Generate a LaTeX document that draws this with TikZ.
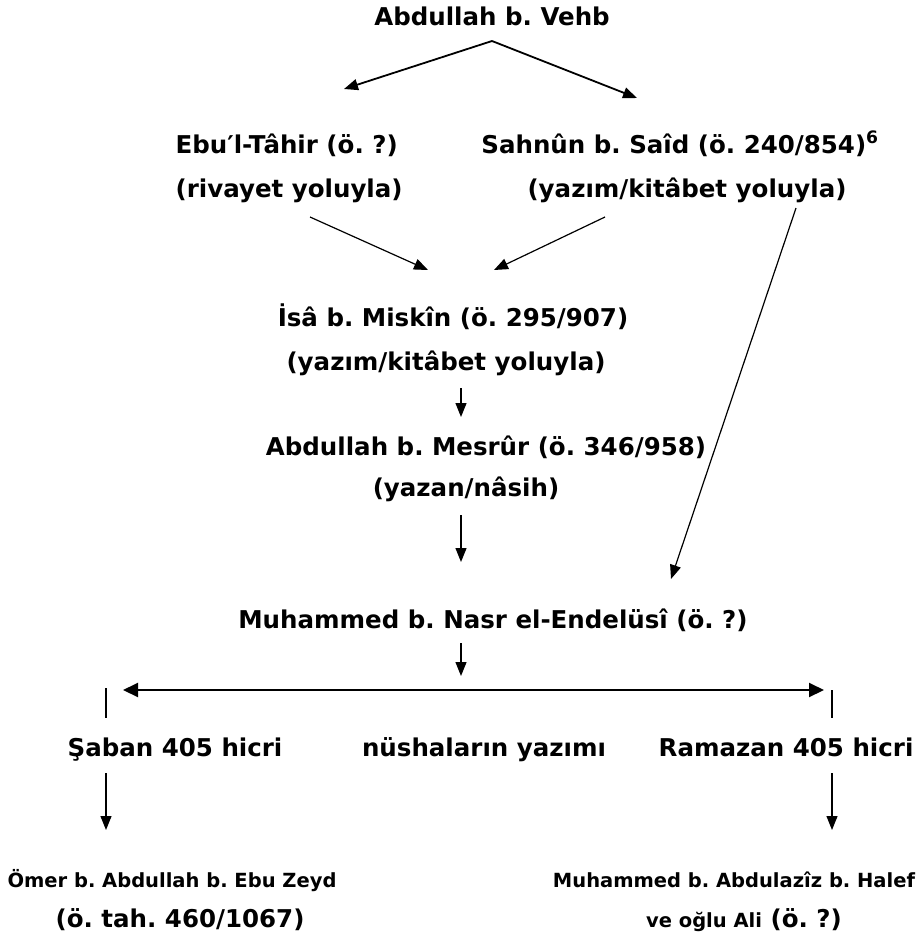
\documentclass[tikz,border=0pt]{standalone}
\usepackage{fontspec}
\setmainfont{DejaVu Sans}
\usetikzlibrary{arrows.meta}
\frenchspacing
\begin{document}
\begin{tikzpicture}[x=1pt, y=-1pt, font=\bfseries\fontsize{24.5}{28}\selectfont, line join=round, line width=1.2pt, >={Triangle[length=14pt,width=11pt]}]
		\tikzset{txt/.style={anchor=base, inner sep=0pt}, small/.style={txt, font=\bfseries\fontsize{19.5}{22}\selectfont}}
		\useasboundingbox (0,0) rectangle (918,935);
		% names
		\node[txt] (vehb) at (492,25) {Abdullah b. Vehb};
		\node[txt, anchor=base west] (tahir) at (175,153) {Ebu′l-Tâhir (ö. ?)};
		\node[txt, anchor=base west] (tahirb) at (175,197) {(rivayet yoluyla)};
		\node[txt] (sahnun) at (680,153) {Sahnûn b. Saîd (ö. 240/854)\textsuperscript{6}};
		\node[txt] (sahnunb) at (687,197) {(yazım/kitâbet yoluyla)};
		\node[txt] (isa) at (453,326) {İsâ b. Miskîn (ö. 295/907)};
		\node[txt] (isab) at (446,370) {(yazım/kitâbet yoluyla)};
		\node[txt] (mesrur) at (486,455) {Abdullah b. Mesrûr (ö. 346/958)};
		\node[txt] (mesrurb) at (466,496) {(yazan/nâsih)};
		\node[txt] (nasr) at (493,628) {Muhammed b. Nasr el-Endelüsî (ö. ?)};
		\node[txt] (saban) at (175,756) {Şaban 405 hicri};
		\node[txt] (nusha) at (484,756) {nüshaların yazımı};
		\node[txt] (ramazan) at (786,756) {Ramazan 405 hicri};
		\node[small] (omer) at (172,887) {Ömer b. Abdullah b. Ebu Zeyd};
		\node[txt] (omerb) at (180,927) {(ö. tah. 460/1067)};
		\node[small] (halef) at (734,887) {Muhammed b. Abdulazîz b. Halef};
		\node[txt] (ali) at (744,927) {{\fontsize{19.5}{22}\selectfont ve oğlu Ali} (ö. ?)};
		% arrow ends
		\coordinate (v0) at (492,41); \coordinate (v1) at (344,89); \coordinate (v2) at (637,98);
		\coordinate (t0) at (310,217); \coordinate (s0) at (605,217); \coordinate (s1) at (796,208);
		\coordinate (i0) at (428,270); \coordinate (i1) at (494,270);
		\coordinate (m0) at (461,388); \coordinate (m1) at (461,417);
		\coordinate (n0) at (461,515); \coordinate (n1) at (461,562); \coordinate (n2) at (671,579);
		\coordinate (d0) at (461,643); \coordinate (d1) at (461,676);
		\coordinate (l0) at (123,690); \coordinate (r0) at (824,690);
		\coordinate (l1) at (106,773); \coordinate (l2) at (106,830);
		\coordinate (r1) at (832,773); \coordinate (r2) at (832,830);
		\draw[->, line width=1.8pt] (v0)--(v1); \draw[->, line width=1.8pt] (v0)--(v2);
		\draw[->] (t0)--(i0); \draw[->] (s0)--(i1); \draw[->] (s1)--(n2);
		\draw[->] (m0)--(m1); \draw[->] (n0)--(n1); \draw[->] (d0)--(d1);
		\draw[<->, line width=2pt, >={Triangle[length=15pt,width=14pt]}] (l0)--(r0);
		\draw[->] (l1)--(l2); \draw[->] (r1)--(r2);
		\foreach \x/\y in{106/688,832/690} \draw (\x,\y)--(\x,718);
	\end{tikzpicture}
\end{document}
